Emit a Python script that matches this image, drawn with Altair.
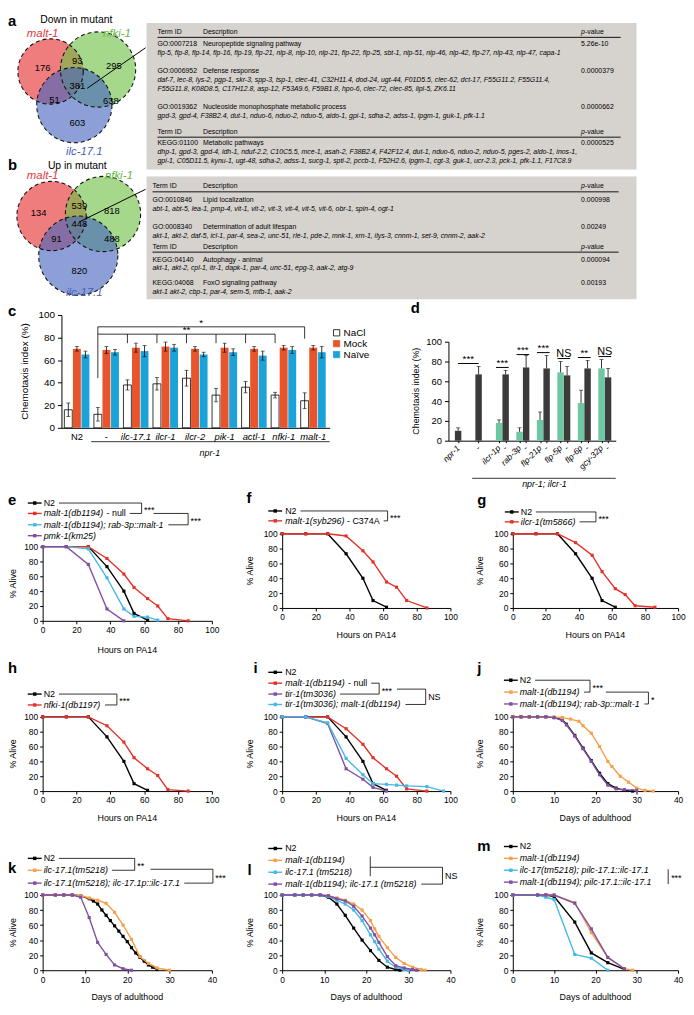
import altair as alt
import pandas as pd

FONT = "Liberation Sans"

# ======================= DATA =======================
venn_sets = ["malt-1", "nfki-1", "ilc-17.1"]
venn_a_counts = [176, 93, 295, 381, 51, 638, 603]
venn_b_counts = [134, 539, 818, 448, 91, 488, 820]

table_a_rows = [
    ("GO:0007218", "Neuropeptide signaling pathway", "5.26e-10",
     ["flp-5, flp-8, flp-14, flp-16, flp-19, flp-21, nlp-8, nlp-10, nlp-21, flp-22, flp-25, sbt-1, nlp-51, nlp-46, nlp-42, flp-27, nlp-43, nlp-47, capa-1"]),
    ("GO:0006952", "Defense response", "0.0000379",
     ["daf-7, lec-8, lys-2, pgp-1, skr-3, spp-3, tsp-1, clec-41, C32H11.4, dod-24, ugt-44, F01D5.5, clec-62, dct-17, F55G11.2, F55G11.4,",
      "F55G11.8, K08D8.5, C17H12.8, asp-12, F53A9.6, F59B1.8, hpo-6, clec-72, clec-85, lipl-5, ZK6.11"]),
    ("GO:0019362", "Nucleoside monophosphate metabolic process", "0.0000662",
     ["gpd-3, gpd-4, F38B2.4, dut-1, nduo-6, nduo-2, nduo-5, aldo-1, gpi-1, sdha-2, adss-1, ipgm-1, guk-1, pfk-1.1"]),
    ("KEGG:01100", "Metabolic pathways", "0.0000525",
     ["dhp-1, gpd-3, gpd-4, idh-1, nduf-2.2, C10C5.5, mce-1, asah-2, F38B2.4, F42F12.4, dut-1, nduo-6, nduo-2, nduo-5, pges-2, aldo-1, inos-1,",
      "gpi-1, C05D11.5, kynu-1, ugt-48, sdha-2, adss-1, sucg-1, spti-2, pccb-1, F52H2.6, ipgm-1, cgt-3, guk-1, ucr-2.3, pck-1, pfk-1.1, F17C8.9"]),
]
table_b_rows = [
    ("GO:0010846", "Lipid localization", "0.000998",
     ["abt-1, abt-5, lea-1, pmp-4, vit-1, vit-2, vit-3, vit-4, vit-5, vit-6, obr-1, spin-4, ogt-1"]),
    ("GO:0008340", "Determination of adult lifespan", "0.00249",
     ["akt-1, akt-2, daf-5, icl-1, par-4, sea-2, unc-51, rle-1, pde-2, mnk-1, xrn-1, ilys-3, cnnm-1, set-9, cnnm-2, aak-2"]),
    ("KEGG:04140", "Autophagy - animal", "0.000094",
     ["akt-1, akt-2, cpl-1, itr-1, dapk-1, par-4, unc-51, epg-3, aak-2, atg-9"]),
    ("KEGG:04068", "FoxO signaling pathway", "0.00193",
     ["akt-1 akt-2, cbp-1, par-4, sem-5, mfb-1, aak-2"]),
]

c_groups = ["N2", "-", "ilc-17.1", "ilcr-1", "ilcr-2", "pik-1", "actl-1", "nfki-1", "malt-1"]
c_nacl = [16, 12, 38, 39, 44, 29, 36, 29, 24]
c_nacl_err = [6, 6, 4.5, 5.5, 7, 6, 5, 2.5, 7]
c_mock = [70, 69, 71, 72, 70, 71, 70, 71, 71]
c_mock_err = [2, 3, 4, 4, 2, 4, 2, 2, 2]
c_naive = [65, 67, 68, 71, 65, 67, 64, 69, 67]
c_naive_err = [3, 2.5, 5, 3, 2, 3, 4, 3, 5]

d_labels = ["npr-1", "-", "ilcr-1p", "-", "rab-3p", "-", "flp-21p", "-", "flp-5p", "-", "flp-6p", "-", "gcy-32p", "-"]
d_kind = ["ctrl", "ctrl", "tg", "ctrl", "tg", "ctrl", "tg", "ctrl", "tg", "ctrl", "tg", "ctrl", "tg", "ctrl"]
d_values = [10, 67, 18, 67, 9, 74, 21, 73, 69, 66, 38, 73, 73, 64]
d_err = [3, 8, 3, 4, 4, 12, 8, 13, 11, 9, 13, 8, 9, 9]
d_sig = ["***", "***", "***", "***", "NS", "**", "NS"]

pa14_n2 = ([0, 14, 27, 38, 48, 54, 62], [100, 100, 100, 73, 40, 10, 1])
pa14_malt1_null = ([0, 14, 27, 38, 48, 54, 62, 68, 74, 86], [100, 100, 100, 84, 63, 45, 30, 20, 3, 0])
pa14_rab3p_rescue = ([0, 14, 27, 38, 48, 54, 62, 68], [100, 100, 97, 58, 16, 6, 5, 1])
pa14_pmk1 = ([0, 14, 27, 38, 48], [100, 100, 76, 16, 0])
pa14_syb296 = ([0, 14, 27, 38, 48, 54, 62, 68, 74, 86], [100, 100, 100, 97, 77, 62, 35, 28, 10, 0])
pa14_ilcr1 = ([0, 14, 27, 38, 48, 54, 62, 68, 74, 86], [100, 100, 100, 88, 71, 49, 26, 18, 3, 1])
pa14_nfki1 = ([0, 14, 27, 38, 48, 54, 62, 68, 74, 86], [100, 100, 100, 88, 66, 45, 30, 21, 2, 0])
pa14_tir1 = ([0, 14, 27, 38, 48, 54, 62], [100, 100, 91, 30, 16, 5, 0])
pa14_tir1_malt1 = ([0, 14, 27, 38, 48, 54, 62, 68, 74, 86, 96], [100, 100, 92, 44, 22, 10, 9, 8, 7, 6, 0])

j_n2 = ([0, 2, 4, 6, 8, 10, 12, 13, 15, 17, 19, 21, 23, 25, 27, 29],
        [100, 100, 100, 100, 100, 99, 96, 90, 75, 58, 41, 24, 10, 4, 1, 0])
j_malt1 = ([0, 2, 4, 6, 8, 10, 12, 14, 16, 17, 19, 21, 23, 24, 26, 28, 30, 32, 34],
           [100, 100, 100, 100, 100, 100, 99, 97, 94, 88, 78, 60, 40, 33, 20, 12, 4, 1, 0])
j_rescue = ([0, 2, 4, 6, 8, 10, 12, 13, 15, 17, 19, 21, 23, 25, 27, 30],
            [100, 100, 100, 100, 100, 99, 95, 89, 74, 57, 40, 22, 8, 3, 2, 1])
k_n2 = ([0, 3, 5, 7, 9, 11, 12, 13, 14, 15, 16, 17, 18, 19, 20, 21, 22, 23, 24, 25, 26, 27],
        [100, 100, 100, 100, 99, 95, 92, 88, 80, 73, 66, 59, 52, 45, 38, 30, 23, 17, 12, 7, 4, 1])
k_ilc171 = ([0, 3, 5, 7, 9, 11, 13, 15, 17, 19, 21, 23, 25, 27, 30],
            [100, 100, 100, 100, 99, 96, 93, 89, 77, 60, 41, 18, 9, 3, 0])
k_rescue = ([0, 3, 5, 7, 9, 11, 13, 15, 17, 19, 21],
            [100, 100, 100, 100, 97, 70, 37, 21, 7, 2, 0])
l_n2 = ([0, 3, 5, 7, 9, 11, 13, 15, 17, 19, 21, 23, 25, 27, 28],
        [100, 100, 100, 100, 100, 97, 88, 73, 56, 40, 26, 13, 4, 1, 0])
l_malt1 = ([0, 3, 5, 7, 9, 11, 13, 15, 17, 19, 21, 22, 23, 25, 27, 29, 31, 33, 34],
           [100, 100, 100, 100, 100, 99, 96, 93, 88, 80, 66, 55, 45, 30, 17, 9, 4, 1, 0])
l_ilc171 = ([0, 3, 5, 7, 9, 11, 13, 15, 17, 19, 21, 22, 23, 25, 27, 29, 30],
            [100, 100, 100, 100, 100, 98, 93, 88, 80, 66, 47, 38, 28, 12, 4, 1, 0])
l_double = ([0, 3, 5, 7, 9, 11, 13, 15, 17, 19, 21, 22, 23, 25, 27, 29, 31, 32],
            [100, 100, 100, 100, 100, 99, 95, 92, 85, 72, 56, 47, 37, 18, 6, 3, 1, 0])
m_n2 = ([0, 6, 8, 10, 15, 19, 23, 27], [100, 100, 100, 98, 64, 23, 10, 1])
m_malt1 = ([0, 6, 8, 10, 15, 19, 23, 27, 29], [100, 100, 100, 100, 90, 50, 17, 2, 0])
m_ilc17_rescue = ([0, 6, 8, 10, 15, 19, 23], [100, 100, 97, 94, 21, 16, 0])
m_double_rescue = ([0, 6, 8, 10, 15, 19, 23, 27], [100, 100, 100, 100, 89, 55, 17, 2])

# ======================= STYLE / LAYOUT =======================
BLACK, RED, CYAN, PURPLE, ORANGE = "#000000", "#e4322b", "#45b9e6", "#8150a3", "#f4a04c"
MOCK_C, NAIVE_C = "#e8552c", "#1ba3d9"
D_TG, D_CTRL = "#6cc7a3", "#3b3b3b"

HW = {}
for chars, w in [("abdeghnopqu", 556), ("ckvxyzs", 500), ("ijl", 222), ("ft", 278), ("r", 333),
                 ("m", 833), ("w", 722), ("0123456789", 556), (" .,;:", 278), ("-()", 333),
                 ("*", 389), ("ABEKPSVXY", 667), ("CDHNRU", 722), ("FTZ", 611), ("GOQ", 778),
                 ("I", 278), ("J", 500), ("L", 556), ("M", 833), ("W", 944)]:
    for ch in chars:
        HW[ch] = w


def tw(s, size):
    return sum(HW.get(ch, 556) for ch in s) * size / 1000.0


STYLES = {
    "letter": dict(fontSize=15, fontWeight="bold", align="left", baseline="middle"),
    "leg": dict(fontSize=9, align="left", baseline="middle"),
    "legi": dict(fontSize=9, fontStyle="italic", align="left", baseline="middle"),
    "star": dict(fontSize=9, align="left", baseline="alphabetic"),
    "axt": dict(fontSize=9, align="center", baseline="middle"),
    "axty": dict(fontSize=9, align="center", baseline="middle", angle=270),
    "axty10": dict(fontSize=10, align="center", baseline="middle", angle=270),
    "tbl": dict(fontSize=7, align="left", baseline="middle"),
    "tbli": dict(fontSize=7, fontStyle="italic", align="left", baseline="middle"),
    "vnum": dict(fontSize=9.5, align="center", baseline="middle"),
    "vtitle": dict(fontSize=10.5, align="center", baseline="middle"),
    "vlab": dict(fontSize=11.5, fontStyle="italic", align="center", baseline="middle"),
    "cleg": dict(fontSize=10, align="left", baseline="middle"),
    "ci": dict(fontSize=9, fontStyle="italic", align="center", baseline="middle"),
}


def text_layers(rows):
    groups = {}
    for r in rows:
        st, x, y, t = r[:4]
        col = r[4] if len(r) > 4 else "black"
        groups.setdefault(st, []).append({"x": x, "y": y, "t": t, "c": col})
    out = []
    for st, recs in groups.items():
        kw = {"font": FONT}
        kw.update(STYLES[st])
        out.append(alt.Chart(pd.DataFrame(recs)).mark_text(**kw).encode(
            x=alt.X("x:Q", scale=None), y=alt.Y("y:Q", scale=None),
            text=alt.Text("t:N"), color=alt.Color("c:N", scale=None)))
    return out


def seg_layer(segs):
    df = pd.DataFrame([dict(x=a, y=b, x2=c, y2=d, c=col, w=w) for a, b, c, d, col, w in segs])
    return alt.Chart(df).mark_rule().encode(
        x=alt.X("x:Q", scale=None), y=alt.Y("y:Q", scale=None), x2="x2:Q", y2="y2:Q",
        color=alt.Color("c:N", scale=None), strokeWidth=alt.StrokeWidth("w:Q", scale=None))


def sq_layer(pts, size):
    df = pd.DataFrame([dict(x=a, y=b, c=col) for a, b, col in pts])
    return alt.Chart(df).mark_point(shape="square", filled=True, size=size, opacity=1).encode(
        x=alt.X("x:Q", scale=None), y=alt.Y("y:Q", scale=None), color=alt.Color("c:N", scale=None))


def anchor(w, h):
    return alt.Chart(alt.Data(values=[{"a": 1}])).mark_rect(opacity=0).encode(
        x=alt.value(0), x2=alt.value(w), y=alt.value(0), y2=alt.value(h))


ROW_TOP = [2, 305, 497, 666, 847]
ROW_H = [291, 192, 169, 181, 164]


# ======================= ROW 1: Venn + tables =======================
def venn_panel():
    W, H = 139, ROW_H[0]
    cl, rt = 3, ROW_TOP[0]
    xs = alt.Scale(domain=[0, W], range=[0, W], nice=False, zero=False)
    ys = alt.Scale(domain=[0, H], range=[0, H], nice=False, zero=False)
    fills = {"malt-1": "#e52d2d", "nfki-1": "#6fc045", "ilc-17.1": "#4566be"}
    geo = {"a": [(46, 61, 33), (94, 59, 38), (70, 95, 38)],
           "b": [(47, 207, 35), (99, 205, 38), (74, 247, 40)]}
    recs = []
    for pan in ["a", "b"]:
        for s, (cx, cy, r) in zip(venn_sets, geo[pan]):
            recs.append(dict(cx=cx - cl, cy=cy - rt, area=4 * r * r, col=fills[s]))
    cdf = pd.DataFrame(recs)
    enc = dict(x=alt.X("cx:Q", scale=xs, axis=None), y=alt.Y("cy:Q", scale=ys, axis=None),
               size=alt.Size("area:Q", scale=None))
    fill_l = alt.Chart(cdf).mark_circle(opacity=0.62).encode(color=alt.Color("col:N", scale=None), **enc)
    line_l = alt.Chart(cdf).mark_point(shape="circle", filled=False, strokeDash=[4, 3], strokeWidth=1.1,
                                       color="#111111", opacity=1).encode(**enc)
    num_pos = {"a": [(38, 57), (73, 50), (110, 55), (73, 76), (50, 90), (107, 91), (73, 113)],
               "b": [(34, 204), (75, 197), (108, 202), (75, 215), (52, 230), (108, 230), (75, 263)]}
    rows = []
    for pan, counts in [("a", venn_a_counts), ("b", venn_b_counts)]:
        for (x, y), n in zip(num_pos[pan], counts):
            rows.append(("vnum", x - cl, y - rt, str(n)))
    rows += [
        ("letter", 0, 8, "a"), ("vtitle", 72 - cl, 9 - rt, "Down in mutant"),
        ("vlab", 38 - cl, 23 - rt, "malt-1", "#e3383c"), ("vlab", 113 - cl, 23 - rt, "nfki-1", "#63b844"),
        ("vlab", 80 - cl, 142 - rt, "ilc-17.1", "#4a5fb5"),
        ("letter", 0, 156 - rt, "b"), ("vtitle", 73 - cl, 157 - rt, "Up in mutant"),
        ("vlab", 38 - cl, 167 - rt, "malt-1", "#e3383c"), ("vlab", 115 - cl, 167 - rt, "nfki-1", "#63b844"),
        ("vlab", 80 - cl, 285 - rt, "ilc-17.1", "#4a5fb5"),
    ]
    segs = [(83 - cl, 78 - rt, 142 - cl, 37 - rt, "black", 1.0),
            (75 - cl, 213 - rt, 142 - cl, 180 - rt, "black", 1.0)]
    layers = [anchor(W, H), fill_l, line_l, seg_layer(segs)] + text_layers(rows)
    return alt.layer(*layers).properties(width=W, height=H)


def table_panel():
    W, H = 545, ROW_H[0]
    cl, rt = 142, ROW_TOP[0]
    rects = pd.DataFrame([dict(x=143 - cl, x2=638 - cl, y=12 - rt, y2=160 - rt),
                          dict(x=143 - cl, x2=638 - cl, y=167 - rt, y2=291 - rt)])
    box = alt.Chart(rects).mark_rect(color="#d6d2ce").encode(
        x=alt.X("x:Q", scale=None), x2="x2:Q", y=alt.Y("y:Q", scale=None), y2="y2:Q")
    rows, segs = [], []
    FS = 7
    DX = 200

    def header(y, idx, ux1, ucol, uw):
        rows.append(("tbl", idx - cl, y - rt, "Term ID"))
        rows.append(("tbl", DX - cl, y - rt, "Description"))
        rows.append(("tbli", 582 - cl, y - rt, "p"))
        rows.append(("tbl", 582 + tw("p", FS) - cl, y - rt, "-value"))
        segs.append((idx - cl, y + 5.5 - rt, ux1 - cl, y + 5.5 - rt, ucol, uw))

    def term(y, idx, entry):
        tid, desc, p, genes = entry
        rows.append(("tbl", idx - cl, y - rt, tid))
        rows.append(("tbl", DX - cl, y - rt, desc))
        rows.append(("tbl", 582 - cl, y - rt, p))
        for k, g in enumerate(genes):
            rows.append(("tbli", idx - cl, y + 9 * (k + 1) - rt, g))

    header(21, 154, 622, "#111111", 1.0)
    for y, e in zip([33, 61, 97], table_a_rows[:3]):
        term(y, 154, e)
    header(122, 154, 622, "#555555", 1.6)
    term(133, 154, table_a_rows[3])
    header(177, 149, 620, "#555555", 1.6)
    for y, e in zip([191, 218], table_b_rows[:2]):
        term(y, 149, e)
    header(238, 149, 620, "#111111", 1.0)
    for y, e in zip([251, 275], table_b_rows[2:]):
        term(y, 149, e)
    layers = [anchor(W, H), box, seg_layer(segs)] + text_layers(rows)
    return alt.layer(*layers).properties(width=W, height=H)


# ======================= ROW 2: c and d =======================
def panel_c():
    cl, rt = 3, ROW_TOP[1]
    Wv, Hv = 404, ROW_H[1]

    def V(x, y):
        return (x - cl, y - rt)

    px0, py0, px1, py1 = 57, 319, 328, 433
    x0v, y0v = V(px0, py0)
    x1v, y1v = V(px1, py1)
    xs = alt.Scale(domain=[-0.355, 8.39], range=[x0v, x1v], nice=False, zero=False)
    ys = alt.Scale(domain=[0, 100], range=[y1v, y0v], nice=False, zero=False)
    xax = alt.Axis(labels=False, ticks=False, grid=False, domainColor="black", offset=-(Hv - y1v))
    yax = alt.Axis(values=[0, 20, 40, 60, 80, 100], grid=False, labelFontSize=10, tickSize=4,
                   labelPadding=3, labelFlush=False, offset=-x0v)

    def X(f):
        return alt.X(f, scale=xs, axis=xax, title=None)

    def Y(f):
        return alt.Y(f, scale=ys, axis=yax, title=None)

    recs = []
    offs = {"NaCl": -0.29, "Mock": 0.0, "Naive": 0.29}
    for i in range(len(c_groups)):
        for cond, vals, errs, fill, stroke in [("NaCl", c_nacl, c_nacl_err, "white", "black"),
                                               ("Mock", c_mock, c_mock_err, MOCK_C, "transparent"),
                                               ("Naive", c_naive, c_naive_err, NAIVE_C, "transparent")]:
            v, e = vals[i], errs[i]
            recs.append(dict(pos=i + offs[cond], v=v, lo=v - e, hi=v + e, zero=0, fill=fill, stroke=stroke))
    df = pd.DataFrame(recs)
    bars = alt.Chart(df).mark_bar(orient="vertical", size=8, strokeWidth=0.8).encode(
        x=X("pos:Q"), y=Y("v:Q"), y2="zero:Q",
        fill=alt.Fill("fill:N", scale=None), stroke=alt.Stroke("stroke:N", scale=None))
    err = alt.Chart(df).mark_rule(color="black", strokeWidth=0.8).encode(x=X("pos:Q"), y=Y("lo:Q"), y2="hi:Q")
    caps_df = pd.concat([df.assign(cy=df["hi"]), df.assign(cy=df["lo"])])
    caps = alt.Chart(caps_df).mark_tick(orient="horizontal", size=4, thickness=0.8, color="black").encode(
        x=X("pos:Q"), y=Y("cy:Q"))
    n0 = -0.29
    br = [dict(x=1 + n0, x2=8 + n0, y=89.5, y2=89.5), dict(x=1 + n0, x2=1 + n0, y=89.5, y2=44),
          dict(x=8 + n0, x2=8 + n0, y=89.5, y2=79), dict(x=1 + n0, x2=7 + n0, y=83, y2=83)]
    for i in range(2, 8):
        br.append(dict(x=i + n0, x2=i + n0, y=83, y2=75))
    brl = alt.Chart(pd.DataFrame(br)).mark_rule(color="black", strokeWidth=0.8).encode(
        x=X("x:Q"), x2="x2:Q", y=Y("y:Q"), y2="y2:Q")
    stars = alt.Chart(pd.DataFrame([dict(x=4.5 + n0, y=90.2, t="*"), dict(x=4 + n0, y=83.7, t="**")])).mark_text(
        font=FONT, fontSize=10, align="center", baseline="alphabetic", color="black").encode(
        x=X("x:Q"), y=Y("y:Q"), text="t:N")
    lab_df = pd.DataFrame([dict(i=i, t=g, it=(g not in ("N2", "-"))) for i, g in enumerate(c_groups)])
    ylab = V(0, 442)[1]
    lab_reg = alt.Chart(lab_df[~lab_df["it"]]).mark_text(font=FONT, fontSize=9.5, align="center",
                                                         baseline="middle", color="black").encode(
        x=X("i:Q"), y=alt.value(ylab), text="t:N")
    lab_it = alt.Chart(lab_df[lab_df["it"]]).mark_text(font=FONT, fontSize=9.5, fontStyle="italic",
                                                       align="center", baseline="middle", color="black").encode(
        x=X("i:Q"), y=alt.value(ylab), text="t:N")
    rows = [("letter", *V(3, 315), "c"), ("axty10", *V(20, 376), "Chemotaxis index (%)"),
            ("ci", *V(207, 458), "npr-1"),
            ("cleg", *V(342, 337), "NaCl"), ("cleg", *V(342, 348), "Mock"), ("cleg", *V(342, 359), "Naïve")]
    segs = [(*V(87, 447), *V(328, 447), "black", 0.8)]
    sqd = []
    for (y, f, s) in [(337, "white", "black"), (348, MOCK_C, MOCK_C), (359, NAIVE_C, NAIVE_C)]:
        x, yy = V(335, y)
        sqd.append(dict(x=x, y=yy, f=f, s=s))
    leg_sq = alt.Chart(pd.DataFrame(sqd)).mark_square(size=40, strokeWidth=0.8, opacity=1).encode(
        x=alt.X("x:Q", scale=None), y=alt.Y("y:Q", scale=None),
        fill=alt.Fill("f:N", scale=None), stroke=alt.Stroke("s:N", scale=None))
    layers = [anchor(Wv, Hv), bars, err, caps, brl, stars, lab_reg, lab_it, seg_layer(segs), leg_sq] + text_layers(rows)
    return alt.layer(*layers).properties(width=Wv, height=Hv)


def panel_d():
    cl, rt = 407, ROW_TOP[1]
    Wv, Hv = 280, ROW_H[1]

    def V(x, y):
        return (x - cl, y - rt)

    px0, py0, px1, py1 = 448, 346, 617, 446
    x0v, y0v = V(px0, py0)
    x1v, y1v = V(px1, py1)
    slot = 22.0
    xs = alt.Scale(domain=[0, (px1 - px0) / slot], range=[x0v, x1v], nice=False, zero=False)
    ys = alt.Scale(domain=[0, 100], range=[y1v, y0v], nice=False, zero=False)
    pos = [0.23, 1.23]
    for k in range(2, 8):
        pos += [k + 0.23, k + 0.55]
    xax = alt.Axis(values=pos, labels=False, ticks=True, tickSize=2, grid=False, domainColor="black",
                   offset=-(Hv - y1v))
    yax = alt.Axis(values=[0, 20, 40, 60, 80, 100], grid=False, labelFontSize=9.5, tickSize=4,
                   labelPadding=3, labelFlush=False, offset=-x0v)

    def X(f):
        return alt.X(f, scale=xs, axis=xax, title=None)

    def Y(f):
        return alt.Y(f, scale=ys, axis=yax, title=None)

    df = pd.DataFrame(dict(pos=pos, v=d_values, e=d_err, kind=d_kind, lab=d_labels))
    df["hi"] = df["v"] + df["e"]
    df["zero"] = 0
    df["fill"] = [D_TG if k == "tg" else D_CTRL for k in d_kind]
    bars = alt.Chart(df).mark_bar(orient="vertical", size=6.5).encode(
        x=X("pos:Q"), y=Y("v:Q"), y2="zero:Q", color=alt.Color("fill:N", scale=None))
    err = alt.Chart(df).mark_rule(color="black", strokeWidth=0.8).encode(x=X("pos:Q"), y=Y("v:Q"), y2="hi:Q")
    caps = alt.Chart(df).mark_tick(orient="horizontal", size=4, thickness=0.8, color="black").encode(
        x=X("pos:Q"), y=Y("hi:Q"))
    line_y = [78, 74, 87, 89, 83, 84, 85]
    br, st = [], []
    for j, (ly, s) in enumerate(zip(line_y, d_sig)):
        if j == 0:
            a, b = 0.23, 1.23
        else:
            k = j + 1
            a, b = k + 0.08, k + 0.70
        br.append(dict(x=a, x2=b, y=ly))
        st.append(dict(x=(a + b) / 2, y=ly + (1.2 if s != "NS" else 2.0), t=s, ns=(s == "NS")))
    brl = alt.Chart(pd.DataFrame(br)).mark_rule(color="black", strokeWidth=1).encode(
        x=X("x:Q"), x2="x2:Q", y=Y("y:Q"))
    sdf = pd.DataFrame(st)
    stars = alt.Chart(sdf[~sdf["ns"]]).mark_text(font=FONT, fontSize=10, align="center",
                                                 baseline="alphabetic", color="black").encode(
        x=X("x:Q"), y=Y("y:Q"), text="t:N")
    ns = alt.Chart(sdf[sdf["ns"]]).mark_text(font=FONT, fontSize=11, align="center",
                                             baseline="alphabetic", color="black").encode(
        x=X("x:Q"), y=Y("y:Q"), text="t:N")
    lab_reg = alt.Chart(df[df["lab"] == "-"]).mark_text(font=FONT, fontSize=8.5, align="right", baseline="middle",
                                                        angle=315, color="black").encode(
        x=X("pos:Q"), y=alt.value(y1v + 6), text="lab:N")
    lab_it = alt.Chart(df[df["lab"] != "-"]).mark_text(font=FONT, fontSize=8.5, fontStyle="italic", align="right",
                                                       baseline="middle", angle=315, color="black").encode(
        x=X("pos:Q"), y=alt.value(y1v + 6), text="lab:N")
    rows = [("letter", *V(410, 312), "d"), ("axty", *V(415, 396), "Chemotaxis index (%)"),
            ("ci", *V(545, 490), "npr-1; ilcr-1")]
    segs = [(*V(472, 484), *V(617, 484), "black", 0.8)]
    layers = [anchor(Wv, Hv), bars, err, caps, brl, stars, ns, lab_reg, lab_it, seg_layer(segs)] + text_layers(rows)
    return alt.layer(*layers).properties(width=Wv, height=Hv)


# ======================= SURVIVAL PANELS =======================
def surv_panel(P):
    cl, rt = P["origin"]
    Wv, Hv = P["size"]

    def V(x, y):
        return (x - cl, y - rt)

    px0, py0, px1, py1 = P["plot"]
    x0v, y0v = V(px0, py0)
    x1v, y1v = V(px1, py1)
    xs = alt.Scale(domain=[0, P["xmax"]], range=[x0v, x1v], nice=False, zero=False)
    ys = alt.Scale(domain=[0, 100], range=[y1v, y0v], nice=False, zero=False)
    xax = alt.Axis(values=P["xticks"], grid=False, labelFlush=False, labelFontSize=8.5, tickSize=3,
                   labelPadding=2, domainColor="black", tickColor="black", offset=-(Hv - y1v))
    yax = alt.Axis(values=[0, 20, 40, 60, 80, 100], grid=False, labelFlush=False, labelFontSize=8.5,
                   tickSize=3, labelPadding=2, domainColor="black", tickColor="black", offset=-x0v)
    layers = [anchor(Wv, Hv)]
    for (parts, col, series) in P["legend"]:
        t, v = series
        df = pd.DataFrame({"t": t, "v": v})
        enc = dict(x=alt.X("t:Q", scale=xs, axis=xax, title=None),
                   y=alt.Y("v:Q", scale=ys, axis=yax, title=None))
        layers.append(alt.Chart(df).mark_line(color=col, strokeWidth=1.4).encode(**enc))
        layers.append(alt.Chart(df).mark_point(shape="square", filled=True, size=10, color=col,
                                               opacity=1).encode(**enc))
    rows, segs, sqs = [], [], []
    lx, ly = P["letter"]
    rows.append(("letter", *V(lx, ly), P["key"]))
    rows.append(("axty", *V(P["ytx"], (py0 + py1) / 2), "% Alive"))
    rows.append(("axt", *V((px0 + px1) / 2, py1 + P.get("xtd", 27)), P["xtitle"]))
    mx0, mx1 = P["mx"]
    tx = P["tx"]
    ends = []
    for (parts, col, series), y in zip(P["legend"], P["ys"]):
        segs.append((*V(mx0 - 2, y), *V(mx1 + 2, y), col, 1.4))
        sqs.append((*V((mx0 + mx1) / 2, y), col))
        xc = tx
        for txt, it in parts:
            if txt.startswith(" "):
                xc += tw(" ", 9)
                txt = txt.lstrip()
            rows.append(("legi" if it else "leg", *V(xc, y), txt))
            xc += tw(txt, 9)
        ends.append(xc)
    ysl = P["ys"]

    def star_row(x, yc, s):
        rows.append(("star", *V(x, yc + (5 if s != "NS" else 3.3)), s))

    for b in P["brackets"]:
        kind = b[0]
        if kind == "br":
            _, i1, i2, vx, star = b
            vx = max(vx, ends[i1] + 8, ends[i2] + 8)
            segs.append((*V(ends[i1] + 4, ysl[i1]), *V(vx, ysl[i1]), "black", 0.8))
            segs.append((*V(ends[i2] + 4, ysl[i2]), *V(vx, ysl[i2]), "black", 0.8))
            segs.append((*V(vx, ysl[i1]), *V(vx, ysl[i2]), "black", 0.8))
            star_row(vx + 2.5, (ysl[i1] + ysl[i2]) / 2, star)
        elif kind == "br2":
            _, x0, ytop, i2, vx, star = b
            vx = max(vx, ends[i2] + 8)
            segs.append((*V(x0, ytop), *V(vx, ytop), "black", 0.8))
            segs.append((*V(ends[i2] + 4, ysl[i2]), *V(vx, ysl[i2]), "black", 0.8))
            segs.append((*V(vx, ytop), *V(vx, ysl[i2]), "black", 0.8))
            star_row(vx + 2.5, (ytop + ysl[i2]) / 2, star)
        elif kind == "seg":
            _, x1, y1, x2, y2 = b
            segs.append((*V(x1, y1), *V(x2, y2), "black", 0.8))
        elif kind == "txt":
            _, x, yc, star = b
            star_row(x, yc, star)
    layers += [seg_layer(segs), sq_layer(sqs, 12)] + text_layers(rows)
    return alt.layer(*layers).properties(width=Wv, height=Hv)


HRS = dict(xmax=100, xticks=[0, 20, 40, 60, 80, 100], xtitle="Hours on PA14")
DAYS = dict(xmax=40, xticks=[0, 10, 20, 30, 40], xtitle="Days of adulthood")
COL_X = [3, 241, 476]
COL_W = [238, 235, 211]


def geom(col, row):
    return dict(origin=(COL_X[col], ROW_TOP[row]), size=(COL_W[col], ROW_H[row]))


panels = {}
panels["e"] = dict(key="e", plot=(38, 553, 209, 628), letter=(3, 506), ytx=8, xtd=29, mx=(25, 35), tx=39,
                   ys=[509, 519.5, 531, 542],
                   legend=[([("N2", False)], BLACK, pa14_n2),
                           ([("malt-1(db1194)", True), (" - null", False)], RED, pa14_malt1_null),
                           ([("malt-1(db1194); rab-3p::malt-1", True)], CYAN, pa14_rab3p_rescue),
                           ([("pmk-1(km25)", True)], PURPLE, pa14_pmk1)],
                   brackets=[("br", 0, 1, 138, "***"), ("br2", 150, 519.5, 2, 185, "***")], **HRS, **geom(0, 2))
panels["f"] = dict(key="f", plot=(280, 540, 450, 615), letter=(244, 504), ytx=248, mx=(268, 278), tx=283,
                   ys=[517, 527],
                   legend=[([("N2", False)], BLACK, pa14_n2),
                           ([("malt-1(syb296)", True), (" - C374A", False)], RED, pa14_syb296)],
                   brackets=[("br", 0, 1, 380, "***")], **HRS, **geom(1, 2))
panels["g"] = dict(key="g", plot=(513, 540, 680, 615), letter=(477, 506), ytx=480, mx=(507, 517), tx=521,
                   ys=[518, 528],
                   legend=[([("N2", False)], BLACK, pa14_n2),
                           ([("ilcr-1(tm5866)", True)], RED, pa14_ilcr1)],
                   brackets=[("br", 0, 1, 597, "***")], **HRS, **geom(2, 2))
panels["h"] = dict(key="h", plot=(38, 725, 209, 800), letter=(3, 676), ytx=8, mx=(25, 35), tx=39,
                   ys=[702, 713],
                   legend=[([("N2", False)], BLACK, pa14_n2),
                           ([("nfki-1(db1197)", True)], RED, pa14_nfki1)],
                   brackets=[("br", 0, 1, 113, "***")], **HRS, **geom(0, 3))
panels["i"] = dict(key="i", plot=(280, 725, 450, 800), letter=(251, 676), ytx=248, mx=(268, 278), tx=283,
                   ys=[680, 691, 702, 712.5],
                   legend=[([("N2", False)], BLACK, pa14_n2),
                           ([("malt-1(db1194)", True), (" - null", False)], RED, pa14_malt1_null),
                           ([("tir-1(tm3036)", True)], PURPLE, pa14_tir1),
                           ([("tir-1(tm3036); malt-1(db1194)", True)], CYAN, pa14_tir1_malt1)],
                   brackets=[("br", 1, 2, 378, "***"), ("br2", 396, 697, 3, 425, "NS")], **HRS, **geom(1, 3))
panels["j"] = dict(key="j", plot=(513, 725, 680, 800), letter=(477, 676), ytx=480, mx=(506, 516), tx=520,
                   ys=[688, 700, 712],
                   legend=[([("N2", False)], BLACK, j_n2),
                           ([("malt-1(db1194)", True)], ORANGE, j_malt1),
                           ([("malt-1(db1194); rab-3p::malt-1", True)], PURPLE, j_rescue)],
                   brackets=[("br", 0, 1, 591, "***"), ("br2", 607, 700, 2, 650, "*")], **DAYS, **geom(2, 3))
panels["k"] = dict(key="k", plot=(38, 905, 209, 981), letter=(3, 878), ytx=8, mx=(25, 35), tx=39,
                   ys=[868, 880, 893],
                   legend=[([("N2", False)], BLACK, k_n2),
                           ([("ilc-17.1(tm5218)", True)], ORANGE, k_ilc171),
                           ([("ilc-17.1(tm5218); ilc-17.1p::ilc-17.1", True)], PURPLE, k_rescue)],
                   brackets=[("br", 0, 1, 131, "**"), ("br2", 147, 879, 2, 210, "***")], **DAYS, **geom(0, 4))
panels["l"] = dict(key="l", plot=(280, 905, 450, 981), letter=(245, 880), ytx=248, mx=(268, 278), tx=283,
                   ys=[858, 870, 882, 894],
                   legend=[([("N2", False)], BLACK, l_n2),
                           ([("malt-1(db1194)", True)], ORANGE, l_malt1),
                           ([("ilc-17.1 (tm5218)", True)], CYAN, l_ilc171),
                           ([("malt-1(db1194); ilc-17.1 (tm5218)", True)], PURPLE, l_double)],
                   brackets=[("seg", 369, 866, 369, 886), ("br2", 369, 877, 3, 442, "NS")], **DAYS, **geom(1, 4))
panels["m"] = dict(key="m", plot=(513, 905, 680, 981), letter=(477, 856), ytx=480, mx=(506, 516), tx=520,
                   ys=[856, 868, 880, 892],
                   legend=[([("N2", False)], BLACK, m_n2),
                           ([("malt-1(db1194)", True)], ORANGE, m_malt1),
                           ([("ilc-17(tm5218); pilc-17.1::ilc-17.1", True)], CYAN, m_ilc17_rescue),
                           ([("malt-1(db1194); pilc-17.1::ilc-17.1", True)], PURPLE, m_double_rescue)],
                   brackets=[("seg", 670, 879, 670, 894), ("txt", 673, 886, "***")], **DAYS, **geom(2, 4))


def row(*charts):
    return alt.hconcat(*charts, spacing=0, bounds="flush")


rows_all = [
    row(venn_panel(), table_panel()),
    row(panel_c(), panel_d()),
    row(*[surv_panel(panels[k]) for k in "efg"]),
    row(*[surv_panel(panels[k]) for k in "hij"]),
    row(*[surv_panel(panels[k]) for k in "klm"]),
]

chart = alt.vconcat(*rows_all, spacing=0).properties(
    padding=0, background="white"
).configure_view(strokeWidth=0).configure_axis(
    labelFont=FONT, labelColor="black", domainColor="black", tickColor="black", grid=False
)

chart.save("out.html", embed_options={"renderer": "svg", "actions": False})
